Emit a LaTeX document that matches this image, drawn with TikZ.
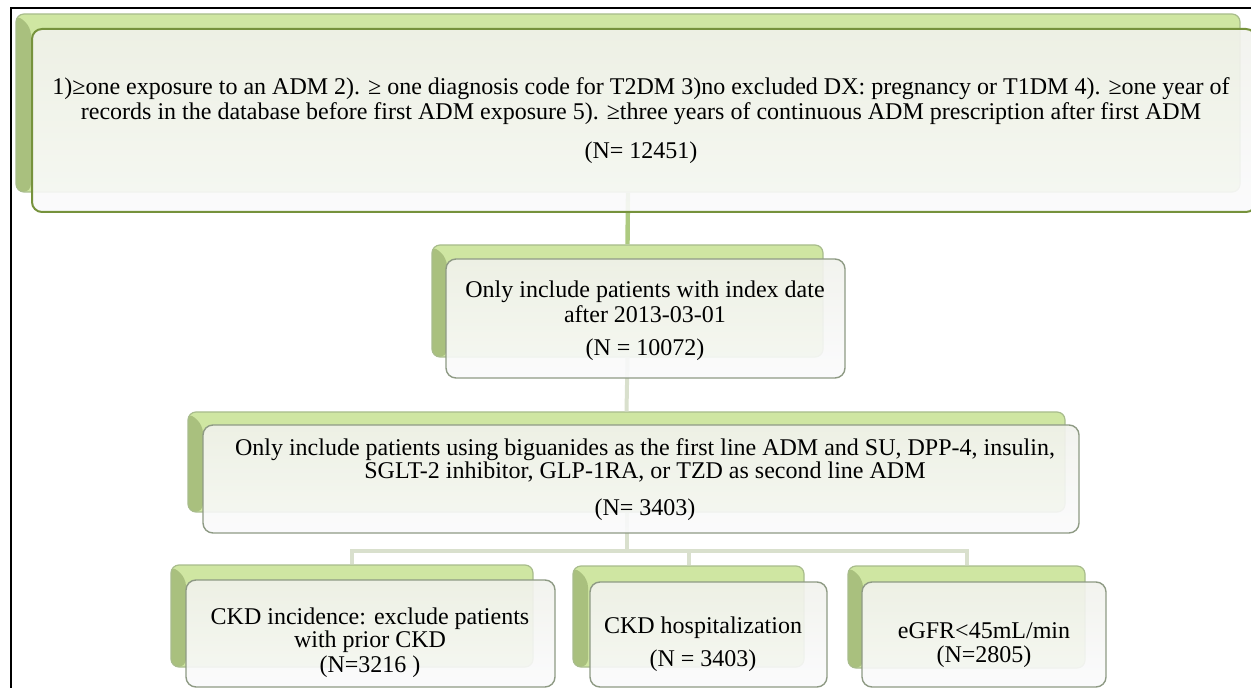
\documentclass[tikz,border=0pt]{standalone}
\usepackage{fontspec}
\setmainfont{Liberation Serif}
\definecolor{leafgreen}{HTML}{CFE6A2}
\definecolor{leafdark}{HTML}{A9C07E}
\definecolor{leafedge}{HTML}{A8BC8C}
\definecolor{stemgreen}{HTML}{ADCA80}
\definecolor{stempale}{HTML}{D9E0CD}
\definecolor{cardtop}{HTML}{F1F2EC}
\definecolor{cardbottom}{HTML}{FAFAFC}
\definecolor{cardedge}{HTML}{8E9A84}
\definecolor{oliveedge}{HTML}{76923C}
\begin{document}
\begin{tikzpicture}[x=0.5pt, y=-0.5pt,
    backbox/.style={rectangle, rounded corners=4pt, fill=leafgreen, draw=leafedge, line width=0.6pt, inner sep=0pt,
      path picture={\fill[leafdark] (path picture bounding box.south west) -- (path picture bounding box.north west)
        -- ++(7.5pt,-6.5pt) |- (path picture bounding box.south west);}},
    card/.style={rectangle, rounded corners=5pt, top color=cardtop, bottom color=cardbottom, fill opacity=0.9,
      draw=cardedge, line width=0.7pt, inner sep=0pt},
    cardtext/.style={align=center, inner sep=0pt, font=\fontsize{12}{12.5}\selectfont},
    stem/.style={line width=2.2pt, draw=stemgreen},
    twig/.style={line width=2pt, draw=stempale}]
  \useasboundingbox (0,0) rectangle (1251,688);
  \draw[line width=1.1pt] (11,700) -- (11,8) -- (1270,8);

  % green back plates
  \node[backbox, minimum width=612pt, minimum height=89pt] (g1) at (628,103) {};
  \node[backbox, minimum width=195.5pt, minimum height=56pt] (g2) at (627.5,301) {};
  \node[backbox, minimum width=438.5pt, minimum height=50pt] (g3) at (626.5,462) {};
  \node[backbox, minimum width=181pt, minimum height=51pt] (g4) at (352,616) {};
  \node[backbox, minimum width=115.5pt, minimum height=50.5pt] (g5) at (688.5,616.5) {};
  \node[backbox, minimum width=118.5pt, minimum height=51pt] (g6) at (966.5,617) {};

  % connectors
  \draw[stem] (g1.south) -- (g2.north);
  \draw[twig] (g2.south) -- (g3.north);
  \path (g3.south) ++(0,38) coordinate (split);
  \draw[twig] (g3.south) -- (split);
  \draw[twig] (split) -| (g4.north);
  \draw[twig] (split) -| (g5.north);
  \draw[twig] (split) -| (g6.north);

  % front cards
  \node[card, draw=oliveedge, line width=1pt, minimum width=612pt, minimum height=91.5pt] (f1) at (644,120.5) {};
  \node[card, minimum width=199.5pt, minimum height=59.5pt] (f2) at (645.5,318.5) {};
  \node[card, minimum width=438pt, minimum height=54pt] (f3) at (641,479) {};
  \node[card, minimum width=184.5pt, minimum height=53.5pt] (f4) at (370.5,633.5) {};
  \node[card, minimum width=118.5pt, minimum height=52.5pt] (f5) at (708.5,634.5) {};
  \node[card, minimum width=122pt, minimum height=52.5pt] (f6) at (984,634.5) {};

  % texts
  \node[cardtext] (t1) at (641,121) {1)≥one exposure to an ADM 2). ≥ one diagnosis code for T2DM 3)no excluded DX: pregnancy or T1DM 4). ≥one year of\\
    records in the database before first ADM exposure 5). ≥three years of continuous ADM prescription after first ADM\\[7pt]
    (N= 12451)};
  \node[cardtext] (t2) at (645,321) {Only include patients with index date\\ after 2013-03-01\\[4pt] (N = 10072)};
  \node[cardtext] (t3) at (645,480) {Only include patients using biguanides as the first line ADM and SU, DPP-4, insulin,\\[-1pt]
    SGLT-2 inhibitor, GLP-1RA, or TZD as second line ADM\\[6pt] (N= 3403)};
  \node[cardtext] (t4) at (370,643) {CKD incidence: exclude patients\\[-1pt] with prior CKD\\ (N=3216 )};
  \node[cardtext] (t5) at (703,644) {CKD hospitalization\\[4pt] (N = 3403)};
  \node[cardtext] (t6) at (984,645) {eGFR<45mL/min\\[-0.5pt] (N=2805)};
\end{tikzpicture}
\end{document}
